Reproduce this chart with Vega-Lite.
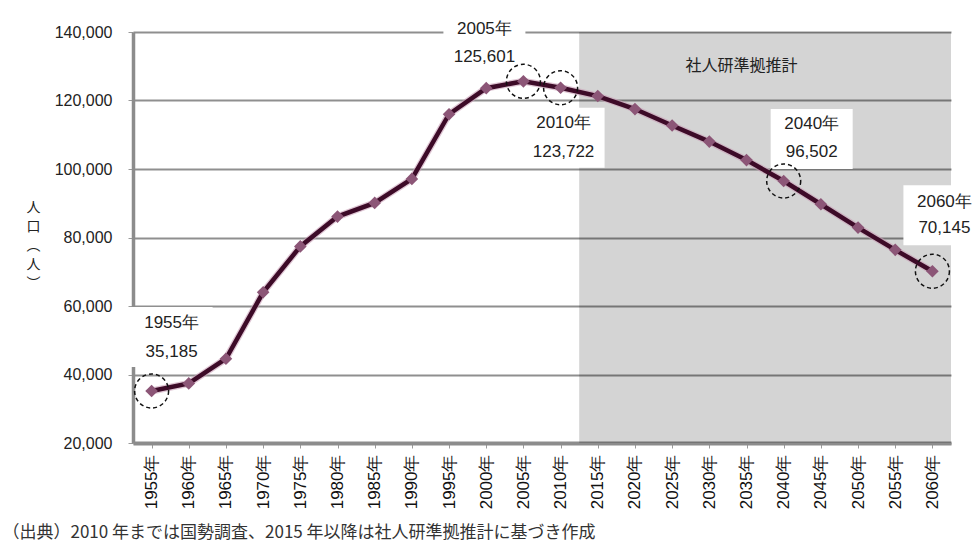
{
  "$schema": "https://vega.github.io/schema/vega-lite/v6.json",
  "width": 818,
  "height": 411,
  "autosize": "none",
  "padding": {"left": 133, "top": 32, "right": 26, "bottom": 105},
  "background": "white",
  "config": {"view": {"stroke": null}, "font": "Liberation Sans"},
  "datasets": {
    "pop": [
      {"year": 1955, "value": 35185},
      {"year": 1960, "value": 37400},
      {"year": 1965, "value": 44600},
      {"year": 1970, "value": 64000},
      {"year": 1975, "value": 77400},
      {"year": 1980, "value": 86100},
      {"year": 1985, "value": 90100},
      {"year": 1990, "value": 97100},
      {"year": 1995, "value": 116000},
      {"year": 2000, "value": 123600},
      {"year": 2005, "value": 125601},
      {"year": 2010, "value": 123722},
      {"year": 2015, "value": 121300},
      {"year": 2020, "value": 117500},
      {"year": 2025, "value": 112700},
      {"year": 2030, "value": 108000},
      {"year": 2035, "value": 102600},
      {"year": 2040, "value": 96502},
      {"year": 2045, "value": 89700},
      {"year": 2050, "value": 82900},
      {"year": 2055, "value": 76400},
      {"year": 2060, "value": 70145}
    ],
    "notes": [
      {"year": 1955, "value": 35185, "label": "1955年\n35,185"},
      {"year": 2005, "value": 125601, "label": "2005年\n125,601"},
      {"year": 2010, "value": 123722, "label": "2010年\n123,722"},
      {"year": 2040, "value": 96502, "label": "2040年\n96,502"},
      {"year": 2060, "value": 70145, "label": "2060年\n70,145"}
    ],
    "region": [
      {"start": 2012.5, "end": 2062.5, "top": 140000, "bottom": 20000, "name": "社人研準拠推計", "labelYear": 2035, "labelValue": 130000}
    ]
  },
  "encoding": {
    "x": {
      "field": "year",
      "type": "quantitative",
      "scale": {"domain": [1952.5, 2062.5], "nice": false, "zero": false},
      "axis": {
        "values": [1955, 1960, 1965, 1970, 1975, 1980, 1985, 1990, 1995, 2000, 2005, 2010, 2015, 2020, 2025, 2030, 2035, 2040, 2045, 2050, 2055, 2060],
        "labelAngle": -90,
        "labelAlign": "right",
        "labelBaseline": "middle",
        "labelFont": "Liberation Sans",
        "labelFontSize": 17,
        "labelColor": "#111",
        "labelExpr": "datum.value + '年'",
        "labelPadding": 6,
        "labelOverlap": false,
        "labelFlush": false,
        "tickSize": 5,
        "tickColor": "#9a9a9a",
        "domainColor": "#8c8c8c",
        "domainWidth": 4,
        "grid": false,
        "title": "（出典）2010 年までは国勢調査、2015 年以降は社人研準拠推計に基づき作成",
        "titleFont": "Noto Sans CJK JP",
        "titleFontSize": 17,
        "titleFontWeight": "normal",
        "titleColor": "#333",
        "titleAlign": "left",
        "titleAnchor": "start",
        "titleBaseline": "alphabetic",
        "titleX": -131,
        "titleY": 94
      }
    },
    "y": {
      "field": "value",
      "type": "quantitative",
      "scale": {"domain": [20000, 140000], "nice": false, "zero": false},
      "axis": {
        "values": [20000, 40000, 60000, 80000, 100000, 120000, 140000],
        "format": ",.0f",
        "labelFont": "Liberation Sans",
        "labelFontSize": 16,
        "labelColor": "#222",
        "labelPadding": 16,
        "tickSize": 5,
        "tickColor": "#9a9a9a",
        "domainColor": "#8c8c8c",
        "domainWidth": 3.5,
        "grid": true,
        "gridColor": "#8f8f8f",
        "gridWidth": 2,
        "title": ["人", "口", "︵", "人", "︶"],
        "titleAngle": 0,
        "titleFont": "Noto Sans CJK JP",
        "titleFontSize": 14,
        "titleFontWeight": "normal",
        "titleColor": "#222",
        "titleLineHeight": 19,
        "titleAlign": "center",
        "titleBaseline": "top",
        "titleX": -100,
        "titleY": 168
      }
    }
  },
  "layer": [
    {
      "data": {"name": "region"},
      "mark": {"type": "rect", "fill": "#000", "opacity": 0.17},
      "encoding": {
        "x": {"field": "start", "type": "quantitative"},
        "x2": {"field": "end"},
        "y": {"field": "top", "type": "quantitative"},
        "y2": {"field": "bottom"}
      }
    },
    {
      "data": {"name": "region"},
      "mark": {"type": "text", "font": "Noto Sans CJK JP", "fontSize": 16, "color": "#222", "dx": -5, "baseline": "middle"},
      "encoding": {
        "x": {"field": "labelYear", "type": "quantitative"},
        "y": {"field": "labelValue", "type": "quantitative"},
        "text": {"field": "name"}
      }
    },
    {
      "data": {"name": "notes"},
      "transform": [{"filter": "datum.year == 1955"}],
      "mark": {"type": "point", "shape": "M-1,-0.73H1V0.73H-1Z", "size": 6724, "filled": true, "fill": "white", "opacity": 1, "strokeWidth": 0, "xOffset": 20, "yOffset": -54}
    },
    {
      "data": {"name": "notes"},
      "transform": [{"filter": "datum.year == 2005"}],
      "mark": {"type": "point", "shape": "M-1,-0.73H1V0.73H-1Z", "size": 6724, "filled": true, "fill": "white", "opacity": 1, "strokeWidth": 0, "xOffset": -39, "yOffset": -38}
    },
    {
      "data": {"name": "notes"},
      "transform": [{"filter": "datum.year == 2010"}],
      "mark": {"type": "point", "shape": "M-1,-0.73H1V0.73H-1Z", "size": 6724, "filled": true, "fill": "white", "opacity": 1, "strokeWidth": 0, "xOffset": 3, "yOffset": 50}
    },
    {
      "data": {"name": "notes"},
      "transform": [{"filter": "datum.year == 2040"}],
      "mark": {"type": "point", "shape": "M-1,-0.73H1V0.73H-1Z", "size": 6724, "filled": true, "fill": "white", "opacity": 1, "strokeWidth": 0, "xOffset": 28, "yOffset": -42}
    },
    {
      "data": {"name": "notes"},
      "transform": [{"filter": "datum.year == 2060"}],
      "mark": {"type": "point", "shape": "M-1,-0.73H1V0.73H-1Z", "size": 6724, "filled": true, "fill": "white", "opacity": 1, "strokeWidth": 0, "xOffset": 12, "yOffset": -56}
    },
    {
      "data": {"name": "pop"},
      "mark": {"type": "line", "color": "#c9a0b8", "strokeWidth": 7, "opacity": 0.6}
    },
    {
      "data": {"name": "pop"},
      "mark": {"type": "line", "color": "#3d0b28", "strokeWidth": 4.5}
    },
    {
      "data": {"name": "pop"},
      "mark": {"type": "point", "shape": "diamond", "size": 160, "filled": true, "fill": "#8c5677", "opacity": 1, "strokeWidth": 0}
    },
    {
      "data": {"name": "notes"},
      "mark": {"type": "point", "shape": "circle", "size": 1156, "filled": false, "stroke": "#111", "strokeWidth": 1.5, "strokeDash": [4, 3], "opacity": 1}
    },
    {
      "data": {"name": "notes"},
      "transform": [{"filter": "datum.year == 1955"}],
      "mark": {"type": "text", "lineBreak": "\n", "lineHeight": 29, "fontSize": 17, "color": "#222", "baseline": "middle", "dx": 20, "dy": -68},
      "encoding": {"text": {"field": "label"}}
    },
    {
      "data": {"name": "notes"},
      "transform": [{"filter": "datum.year == 2005"}],
      "mark": {"type": "text", "lineBreak": "\n", "lineHeight": 28, "fontSize": 17, "color": "#222", "baseline": "middle", "dx": -39, "dy": -52},
      "encoding": {"text": {"field": "label"}}
    },
    {
      "data": {"name": "notes"},
      "transform": [{"filter": "datum.year == 2010"}],
      "mark": {"type": "text", "lineBreak": "\n", "lineHeight": 29, "fontSize": 17, "color": "#222", "baseline": "middle", "dx": 3, "dy": 35},
      "encoding": {"text": {"field": "label"}}
    },
    {
      "data": {"name": "notes"},
      "transform": [{"filter": "datum.year == 2040"}],
      "mark": {"type": "text", "lineBreak": "\n", "lineHeight": 28, "fontSize": 17, "color": "#222", "baseline": "middle", "dx": 28, "dy": -57},
      "encoding": {"text": {"field": "label"}}
    },
    {
      "data": {"name": "notes"},
      "transform": [{"filter": "datum.year == 2060"}],
      "mark": {"type": "text", "lineBreak": "\n", "lineHeight": 26, "fontSize": 17, "color": "#222", "baseline": "middle", "dx": 12, "dy": -69},
      "encoding": {"text": {"field": "label"}}
    }
  ]
}
